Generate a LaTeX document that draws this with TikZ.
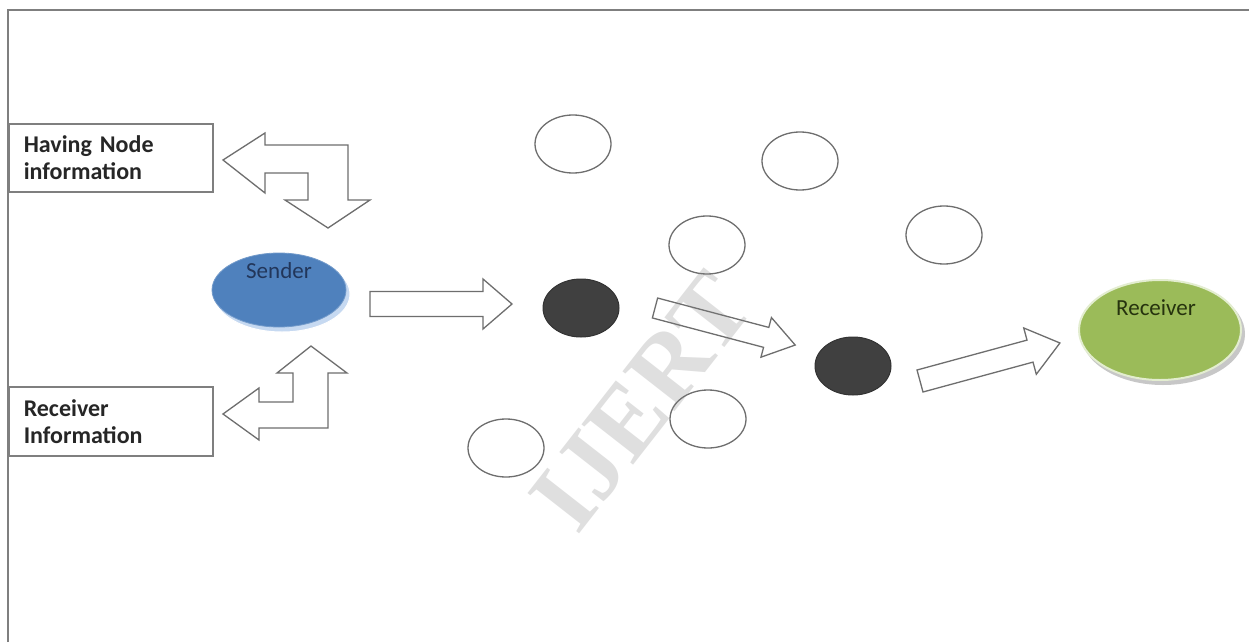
\documentclass[tikz,border=0pt]{standalone}
\usepackage{fontspec}
\setmainfont{Carlito}
\newfontfamily\wmfont{Liberation Serif}
\usetikzlibrary{shapes.geometric}
\definecolor{framegray}{HTML}{7F7F7F}
\definecolor{linegray}{HTML}{6E6E6E}
\definecolor{senderblue}{HTML}{4F81BD}
\definecolor{senderrim}{HTML}{C6D9F1}
\definecolor{sendertext}{HTML}{22365A}
\definecolor{recvgreen}{HTML}{9BBB59}
\definecolor{recvrim}{HTML}{E3EDD0}
\definecolor{recvtext}{HTML}{26330E}
\definecolor{darknode}{HTML}{404040}
\newcommand\blockarr[6]{%
  \begin{scope}[shift={(#1)},rotate=#2]
    \draw[arrowline] (0,-#4) -- ({#3-#6},-#4) -- ({#3-#6},-#5) -- (#3,0)
      -- ({#3-#6},#5) -- ({#3-#6},#4) -- (0,#4) -- cycle;
  \end{scope}}
\begin{document}
\begin{tikzpicture}[x=1pt,y=-1pt,
  arrowline/.style={draw=linegray,line width=1.3pt,fill=white,line join=miter},
  infobox/.style={draw=framegray,line width=1.5pt,rectangle,anchor=north west,
    minimum width=204pt,minimum height=68pt,inner xsep=15pt,text width=174pt,
    align=left,font=\fontsize{24}{27}\selectfont\bfseries,text=black!85},
  plainnode/.style={ellipse,draw=linegray,line width=1.3pt,fill=white,
    minimum width=76pt,minimum height=58pt,inner sep=0pt},
  darkfill/.style={ellipse,draw=darknode!80!black,line width=1pt,fill=darknode,
    minimum width=76pt,minimum height=58pt,inner sep=0pt}]
\useasboundingbox (0,0) rectangle (1249,642);
\fill[white] (0,0) rectangle (1249,642);
% frame
\draw[framegray,line width=2pt] (8,642) -- (8,10) -- (1249,10);
% info boxes
\node[infobox] (hni) at (8,123) {Having Node\\information};
\node[infobox,minimum height=69pt] (ri) at (8,386) {Receiver\\Information};
% bent arrow (top)
\draw[arrowline] (223,160) -- (265,133) -- (265,145) -- (348,145) -- (348,200)
  -- (370,200) -- (328,228) -- (285,200) -- (308,200) -- (308,173) -- (265,173)
  -- (265,193) -- cycle;
% bent arrow (bottom)
\draw[arrowline] (223,414) -- (259,388) -- (259,402) -- (293,402) -- (293,373)
  -- (277,373) -- (311,346) -- (347,373) -- (328,373) -- (328,428) -- (259,428)
  -- (259,440) -- cycle;
% sender
\node[ellipse,fill=senderrim,draw=white,line width=1pt,minimum width=136pt,minimum height=76pt] (senderrimnode) at (282,294) {};
\node[ellipse,fill=senderblue,draw=senderblue!80!white,line width=0.8pt,minimum width=134pt,minimum height=74pt,inner sep=0pt] (sender) at (279,290) {};
\node[text=sendertext,font=\fontsize{23}{25}\selectfont,anchor=base] (sendertxt) at (279,278) {Sender};
% receiver
\node[ellipse,fill=black!22,minimum width=164pt,minimum height=102pt] (recvshadow) at (1163,334) {};
\node[ellipse,fill=recvgreen,draw=recvrim,line width=2pt,minimum width=162pt,minimum height=100pt,inner sep=0pt] (receiver) at (1160,330) {};
\node[text=recvtext,font=\fontsize{23}{25}\selectfont,anchor=base] (recvtxt) at (1156,315) {Receiver};
% other nodes
\node[plainnode] (e1) at (573,144) {};
\node[plainnode] (e2) at (800,161) {};
\node[plainnode] (e3) at (707,245) {};
\node[plainnode] (e4) at (944,235) {};
\node[plainnode] (e5) at (708,419) {};
\node[plainnode] (e6) at (506,448) {};
\node[darkfill] (d1) at (581,308) {};
\node[darkfill] (d2) at (853,366) {};
% straight block arrows
\blockarr{370,304}{0}{142}{12.5}{25}{29}
\blockarr{655,308}{-14.8}{145}{10.3}{20.5}{30}
\blockarr{920,381}{15.2}{145}{11.4}{24}{31}
% watermark
\node[rotate=52,text=gray,opacity=0.25,font=\wmfont\bfseries\fontsize{100}{100}\selectfont] (wm) at (642,402) {IJERT};
\end{tikzpicture}
\end{document}
